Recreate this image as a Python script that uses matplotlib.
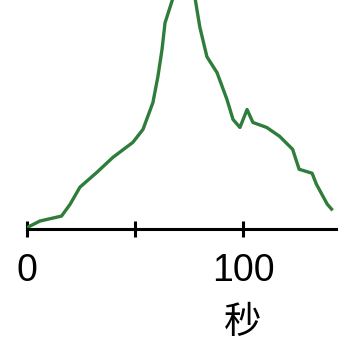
import matplotlib.pyplot as plt

# curve (seconds, arbitrary signal units)
t = [0, 0.5, 6, 16, 20, 24.5, 32.4, 39.8, 49, 53.7, 58.3, 60.6, 62.5, 63.9,
     67.6, 72.7, 77.8, 80, 83.3, 88, 92.6, 95.4, 98.6, 101.9, 104.6, 111,
     117, 123, 126, 132, 134, 139, 141]
signal = [0, 2, 8, 13, 25, 42, 57, 72, 87, 100, 127, 153, 180, 207,
          232, 270, 232, 203, 173, 157, 130, 110, 102, 120, 107, 102,
          93, 80, 60, 56, 45, 25, 20]
tick_pos = [0, 50, 100]
tick_labels = ["0", "", "100"]

fig = plt.figure(figsize=(3.38, 3.5), dpi=100)
ax = fig.add_axes([27 / 338, 120 / 350, 1 - 27 / 338, 230 / 350])

ax.plot(t, signal, color="#2e7d3a", linewidth=2.4, solid_joinstyle="round")

ax.set_xlim(0, 144)
ax.set_ylim(-1, 230)

for side in ["left", "top", "right"]:
    ax.spines[side].set_visible(False)
ax.spines["bottom"].set_linewidth(2.2)
ax.spines["bottom"].set_position(("data", 0))
ax.set_yticks([])

ax.set_xticks(tick_pos)
ax.set_xticklabels(tick_labels, fontfamily="Liberation Sans", fontsize=27)
ax.tick_params(axis="x", direction="inout", length=11, width=2.2, pad=12)

ax.text(100, -0.4, "秒", transform=ax.get_xaxis_transform(),
        ha="center", va="center", fontsize=27,
        family=["Noto Sans CJK SC", "DejaVu Sans"])

plt.savefig("out.png", dpi=100)
